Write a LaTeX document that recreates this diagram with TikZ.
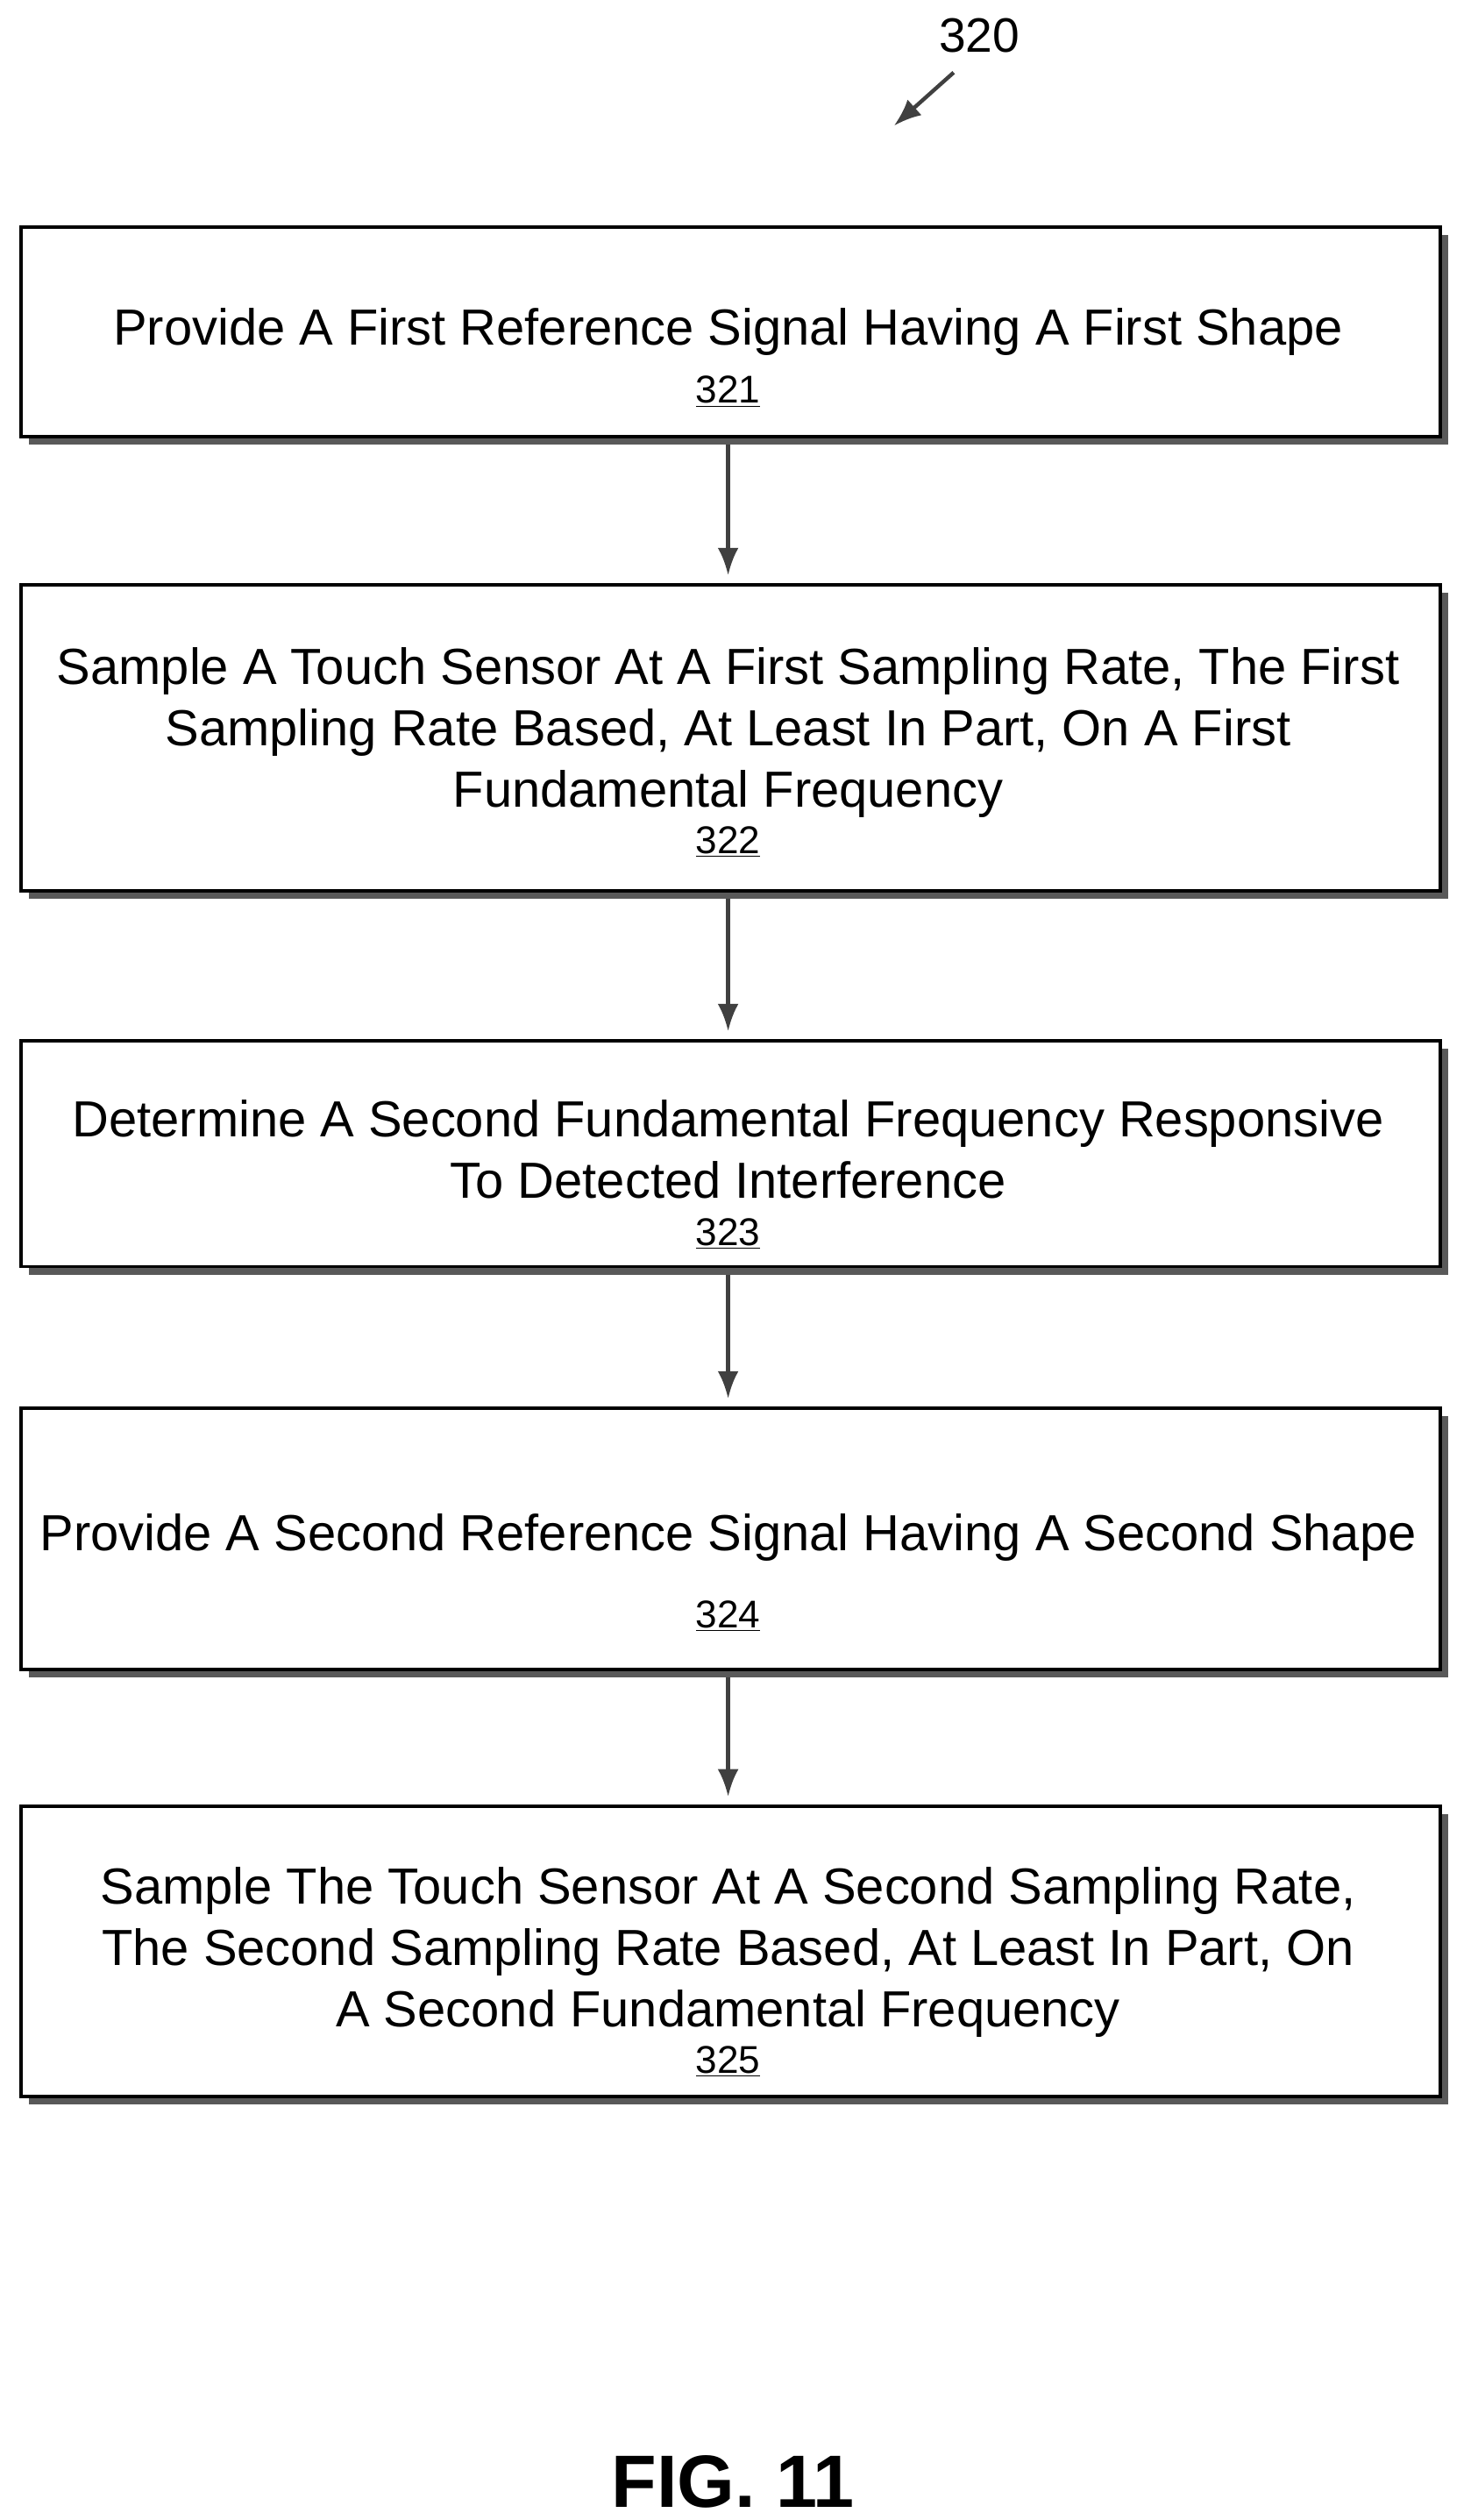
\documentclass[tikz,border=0pt]{standalone}
\usepackage{fontspec}
\setmainfont{Liberation Sans}
\usetikzlibrary{arrows.meta}
\begin{document}
\begin{tikzpicture}[x=1pt,y=-1pt,
  stepbox/.style={draw=black,line width=2pt,fill=white,minimum width=881pt,anchor=north west,inner sep=0pt},
  shad/.style={fill=black!65},
  arr/.style={-{Latex[length=17pt,width=13pt]},line width=2.4pt,draw=black!75}]
\useasboundingbox (0,0) rectangle (917,1564);
\newcommand{\mybox}[5]{% name, top, bottom, text, y of text center
  \fill[shad] (18,#2+6) rectangle (899,#3+6);
  \node[stepbox,minimum height=#3-#2] (#1) at (12,#2) {};
  \node[font=\fontsize{31.5}{38}\selectfont,align=center] at (452,#5) {#4};
}
\newcommand{\rnum}[1]{{\fontsize{24}{28}\selectfont\underline{#1}}}
\mybox{b1}{140}{270}{Provide A First Reference Signal Having A First Shape\\[-2pt]\rnum{321}}{222}
\mybox{b2}{362}{552}{Sample A Touch Sensor At A First Sampling Rate, The First\\Sampling Rate Based, At Least In Part, On A First\\Fundamental Frequency\\[-9pt]\rnum{322}}{467}
\mybox{b3}{645}{785}{Determine A Second Fundamental Frequency Responsive\\To Detected Interference\\[-9pt]\rnum{323}}{729}
\mybox{b4}{873}{1035}{Provide A Second Reference Signal Having A Second Shape\\[10pt]\rnum{324}}{976}
\mybox{b5}{1120}{1300}{Sample The Touch Sensor At A Second Sampling Rate,\\The Second Sampling Rate Based, At Least In Part, On\\A Second Fundamental Frequency\\[-9pt]\rnum{325}}{1224}
\draw[arr] (452,276) -- (452,357);
\draw[arr] (452,558) -- (452,640);
\draw[arr] (452,791) -- (452,868);
\draw[arr] (452,1041) -- (452,1115);
\node[font=\fontsize{30}{32}\selectfont] (lbl) at (608,22) {320};
\coordinate (t) at (555,78);
\draw[arr] (592,45) -- (t);
\node[font=\fontsize{46}{52}\selectfont\bfseries] (fig) at (455,1540) {FIG. 11};
\end{tikzpicture}
\end{document}
